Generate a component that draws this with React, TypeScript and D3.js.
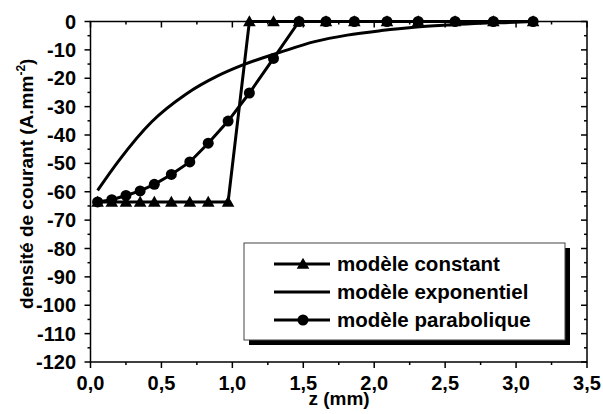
import React from "react";
import * as d3 from "d3";

const W = 603, H = 414;
const M = { left: 90.5, right: 16, top: 21.5, bottom: 52 };

// x positions of the markers (mm)
const zGrid = [0.05, 0.15, 0.25, 0.35, 0.45, 0.57, 0.70, 0.83, 0.97, 1.12, 1.29, 1.47, 1.66, 1.86, 2.09, 2.31, 2.57, 2.84, 3.12];
// modèle constant
const constantVals = [-63.6, -63.6, -63.6, -63.6, -63.6, -63.6, -63.6, -63.6, -63.6, 0, 0, 0, 0, 0, 0, 0, 0, 0, 0];
// modèle parabolique
const paraVals = [-63.6, -62.8, -61.3, -59.7, -57.4, -53.9, -49.5, -42.9, -35.1, -25.2, -13.0, 0, 0, 0, 0, 0, 0, 0, 0];
// modèle exponentiel
const expZ = [0.05, 0.2, 0.43, 0.67, 0.9, 1.07, 1.34, 1.58, 1.81, 2.05, 2.28, 2.52, 2.75, 2.99, 3.12];
const expVals = [-59.5, -49.0, -35.4, -25.7, -19.1, -15.4, -10.8, -7.1, -4.8, -3.2, -2.0, -1.2, -0.6, -0.3, 0];

const xMajor = [0, 0.5, 1, 1.5, 2, 2.5, 3, 3.5];
const xMinor = [0.25, 0.75, 1.25, 1.75, 2.25, 2.75, 3.25];
const yMajor = [0, -10, -20, -30, -40, -50, -60, -70, -80, -90, -100, -110, -120];
const yMinor = [-5, -15, -25, -35, -45, -55, -65, -75, -85, -95, -105, -115];

const legendItems = [
  { label: "modèle constant", marker: "triangle" },
  { label: "modèle exponentiel", marker: "none" },
  { label: "modèle parabolique", marker: "circle" },
];

const FONT = "'Liberation Sans', Arial, sans-serif";

function Triangle({ x, y }: { x: number; y: number }) {
  const s = 6.3;
  return <path d={`M${x},${y - s}L${x + s},${y + s * 0.75}L${x - s},${y + s * 0.75}Z`} fill="#000" />;
}

export default function App() {
  const x = d3.scaleLinear().domain([0, 3.5]).range([M.left, W - M.right]);
  const y = d3.scaleLinear().domain([-120, 0]).range([H - M.bottom, M.top]);
  const line = d3.line<[number, number]>().x((d) => x(d[0])).y((d) => y(d[1]));
  const smooth = d3.line<[number, number]>().x((d) => x(d[0])).y((d) => y(d[1])).curve(d3.curveMonotoneX);

  const constPts = zGrid.map((z, i) => [z, constantVals[i]] as [number, number]);
  const paraPts = zGrid.map((z, i) => [z, paraVals[i]] as [number, number]);
  const expPts = expZ.map((z, i) => [z, expVals[i]] as [number, number]);

  const x0 = x(0), x1 = x(3.5), y0 = y(-120), y1 = y(0);
  const fmt = (v: number) => v.toFixed(1).replace(".", ",");

  const lg = { x: 244, y: 243, w: 321, h: 97 };
  const rowY = [264, 292, 320];

  return (
    <svg width={W} height={H} style={{ position: "absolute", left: 0, top: 0, background: "#fff" }} fontFamily={FONT} fontWeight="bold">
      <rect width={W} height={H} fill="#fff" />
      {/* axes frame */}
      <rect x={x0} y={y1} width={x1 - x0} height={y0 - y1} fill="none" stroke="#000" strokeWidth={1.5} />
      {/* x ticks */}
      {xMajor.map((v) => (
        <g key={"xm" + v}>
          <line x1={x(v)} x2={x(v)} y1={y0} y2={y0 + 6} stroke="#000" strokeWidth={1.5} />
          <line x1={x(v)} x2={x(v)} y1={y1} y2={y1 + 6} stroke="#000" strokeWidth={1.5} />
          <text x={x(v)} y={390} textAnchor="middle" fontSize={20}>{fmt(v)}</text>
        </g>
      ))}
      {xMinor.map((v) => (
        <g key={"xn" + v}>
          <line x1={x(v)} x2={x(v)} y1={y0} y2={y0 + 3} stroke="#000" strokeWidth={1.5} />
          <line x1={x(v)} x2={x(v)} y1={y1} y2={y1 + 3} stroke="#000" strokeWidth={1.5} />
        </g>
      ))}
      {/* y ticks */}
      {yMajor.map((v) => (
        <g key={"ym" + v}>
          <line x1={x0 - 6} x2={x0} y1={y(v)} y2={y(v)} stroke="#000" strokeWidth={1.5} />
          <line x1={x1 - 6} x2={x1} y1={y(v)} y2={y(v)} stroke="#000" strokeWidth={1.5} />
          <text x={76} y={y(v) + 7} textAnchor="end" fontSize={20}>{String(v)}</text>
        </g>
      ))}
      {yMinor.map((v) => (
        <g key={"yn" + v}>
          <line x1={x0 - 3} x2={x0} y1={y(v)} y2={y(v)} stroke="#000" strokeWidth={1.5} />
          <line x1={x1 - 3} x2={x1} y1={y(v)} y2={y(v)} stroke="#000" strokeWidth={1.5} />
        </g>
      ))}
      {/* axis titles */}
      <text x={339} y={405} textAnchor="middle" fontSize={19}>z (mm)</text>
      <text transform={`translate(33,${(y0 + y1) / 2 - 8}) rotate(-90)`} textAnchor="middle" fontSize={19}>
        densité de courant (A.mm<tspan fontSize={12} dy={-8}>-2</tspan><tspan dy={8}>)</tspan>
      </text>

      {/* data */}
      <path d={smooth(expPts) || ""} fill="none" stroke="#000" strokeWidth={3} />
      <path d={line(paraPts) || ""} fill="none" stroke="#000" strokeWidth={3} />
      <path d={line(constPts) || ""} fill="none" stroke="#000" strokeWidth={3} />
      {paraPts.map((p, i) => (
        <circle key={"c" + i} cx={x(p[0])} cy={y(p[1])} r={5.5} fill="#000" />
      ))}
      {constPts.map((p, i) => (
        <Triangle key={"t" + i} x={x(p[0])} y={y(p[1])} />
      ))}

      {/* legend */}
      <rect x={lg.x + 5} y={lg.y + 5} width={lg.w} height={lg.h} fill="#000" />
      <rect x={lg.x} y={lg.y} width={lg.w} height={lg.h} fill="#fff" stroke="#444" strokeWidth={1} />
      {legendItems.map((it, i) => (
        <g key={it.label}>
          <line x1={274} x2={330} y1={rowY[i]} y2={rowY[i]} stroke="#000" strokeWidth={3} />
          {it.marker === "circle" && <circle cx={303} cy={rowY[i]} r={5.5} fill="#000" />}
          {it.marker === "triangle" && <Triangle x={303} y={rowY[i]} />}
          <text x={337} y={rowY[i] + 7} fontSize={20.5}>{it.label}</text>
        </g>
      ))}
    </svg>
  );
}
